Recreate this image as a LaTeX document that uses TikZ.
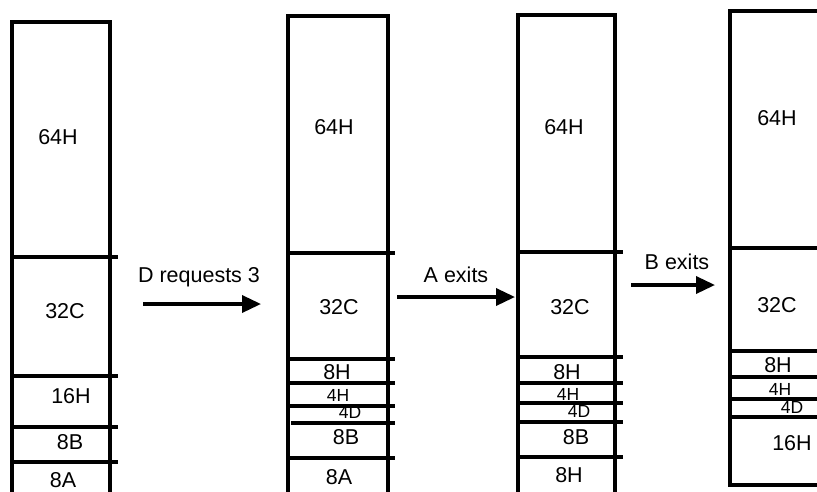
\documentclass[tikz,border=0pt]{standalone}
\usepackage{fontspec}
\setmainfont{Liberation Sans}
\usetikzlibrary{arrows.meta}

\begin{document}
\begin{tikzpicture}[
          x=1pt, y=-1pt,
          wall/.style={line width=3.5pt},
          cut/.style={line width=4pt},
          blk/.style={font=\fontsize{21.5}{21.5}\selectfont, inner sep=0pt},
          sblk/.style={font=\fontsize{17.5}{17.5}\selectfont, inner sep=0pt},
          move/.style={-{Triangle[length=19pt, width=17pt]}, line width=3.5pt},
          label/.style={font=\fontsize{21.5}{21.5}\selectfont, inner sep=0pt}
      ]
          \useasboundingbox (0,0) rectangle (817,491);
          \clip (0,0) rectangle (817,491);
          % before
          \node[blk] (c1a) at (58,137) {64H};
          \node[blk] (c1b) at (65,311) {32C};
          \node[blk] (c1c) at (71,396) {16H};
          \node[blk] (c1d) at (70,442) {8B};
          \node[blk] (c1e) at (63,480) {8A};
          \draw[wall] (12,495) -- (12,22) -- (110,22) -- (110,495);
          \foreach \y in {257,376,427,462} {
              \draw[cut] (14,\y) -- (118,\y);
          }
          % D requests 3
          \node[blk] (c2a) at (334,127) {64H};
          \node[blk] (c2b) at (339,307) {32C};
          \node[blk] (c2c) at (337,372) {8H};
          \node[sblk] (c2d) at (338,395) {4H};
          \node[sblk] (c2e) at (350,412) {4D};
          \node[blk] (c2f) at (346,437) {8B};
          \node[blk] (c2g) at (339,477) {8A};
          \draw[wall] (288,495) -- (288,16) -- (388,16) -- (388,495);
          \foreach \y in {253,359,383,406,458} {
              \draw[cut] (290,\y) -- (395,\y);
          }
          \draw[cut] (291,423) -- (395,423);
          % A exits
          \node[blk] (c3a) at (564,127) {64H};
          \node[blk] (c3b) at (570,307) {32C};
          \node[blk] (c3c) at (567,372) {8H};
          \node[sblk] (c3d) at (568,394) {4H};
          \node[sblk] (c3e) at (579,411) {4D};
          \node[blk] (c3f) at (576,437) {8B};
          \node[blk] (c3g) at (569,475) {8H};
          \draw[wall] (518,495) -- (518,15) -- (615,15) -- (615,495);
          \foreach \y in {252,357,383,403,457} {
              \draw[cut] (520,\y) -- (623,\y);
          }
          \draw[cut] (520,422) -- (623,422);
          % B exits
          \node[blk] (c4a) at (777,118) {64H};
          \node[blk] (c4b) at (777,305) {32C};
          \node[blk] (c4c) at (778,365) {8H};
          \node[sblk] (c4d) at (780,389) {4H};
          \node[sblk] (c4e) at (792,407) {4D};
          \node[blk] (c4f) at (792,443) {16H};
          \draw[wall] (730,485) -- (730,11) -- (825,11) -- (825,485) -- cycle;
          \foreach \y in {248,351,377,399,417} {
              \draw[cut] (732,\y) -- (830,\y);
          }
          % transitions
          \coordinate (s1) at (143,304);
          \coordinate (e1) at (261,304);
          \coordinate (s2) at (397,297);
          \coordinate (e2) at (515,297);
          \coordinate (s3) at (631,285);
          \coordinate (e3) at (715,285);
          \draw[move] (s1) -- (e1);
          \draw[move] (s2) -- (e2);
          \draw[move] (s3) -- (e3);
          \node[label] (dreq) at (199,277) {D requests 3};
          \node[label] (aout) at (456,275) {A exits};
          \node[label] (bout) at (677,262) {B exits};
      \end{tikzpicture}
\end{document}
